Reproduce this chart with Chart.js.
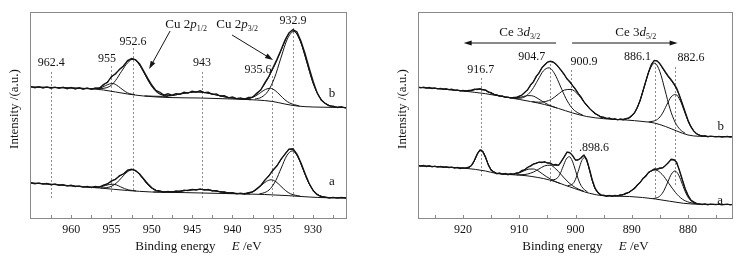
<!DOCTYPE html>
<html>
<head>
<meta charset="utf-8" />
<script src="https://cdn.jsdelivr.net/npm/chart.js@4.4.1/dist/chart.umd.min.js"></script>
<style>
  body { margin:0; background:#fff; width:747px; height:261px; overflow:hidden; position:relative; }
  .panel { position:absolute; top:0; height:261px; }
  #cuBox { left:0; width:372px; }
  #ceBox { left:374px; width:373px; }
</style>
</head>
<body>
<div class="panel" id="cuBox"><canvas id="cuChart" width="372" height="261"></canvas></div>
<div class="panel" id="ceBox"><canvas id="ceChart" width="373" height="261"></canvas></div>
<script>
// ---- Cu 2p, sample b (upper trace) : [binding energy eV, intensity a.u.]
const cuRawB = [[965,132.5],[964.5,131.2],[964,132.4],[963.5,131.0],[963,132.1],[962.5,130.8],[962,131.9],[961.5,130.6],[961,131.8],[960.5,130.2],[960,131.5],[959.5,130.0],[959,131.2],[958.5,129.8],[958,131.0],[957.5,129.6],[957,131.2],[956.5,130.8],[956,134.5],[955.5,136.6],[955,142.5],[954.5,145.0],[954,149.8],[953.5,153.0],[953,158.4],[952.5,160.5],[952,159.2],[951.5,155.2],[951,148.0],[950.5,140.6],[950,134.0],[949.5,128.6],[949,126.8],[948.5,124.0],[948,125.2],[947.5,123.9],[947,125.4],[946.5,124.8],[946,126.7],[945.5,125.9],[945,127.8],[944.5,126.9],[944,128.2],[943.5,126.4],[943,126.9],[942.5,124.6],[942,125.2],[941.5,123.0],[941,123.4],[940.5,121.2],[940,122.0],[939.5,120.4],[939,121.2],[938.5,120.0],[938,121.6],[937.5,121.9],[937,125.8],[936.5,129.0],[936,136.1],[935.5,142.4],[935,151.0],[934.5,159.5],[934,168.8],[933.5,178.6],[933,186.2],[932.5,189.4],[932,187.0],[931.5,177.8],[931,165.5],[930.5,151.2],[930,137.8],[929.5,126.0],[929,119.0],[928.5,115.6],[928,113.2],[927.5,112.9],[927,111.5],[926.5,112.3],[926,111.0],[925.8,111.8]];
const cuFitB = [[965,132],[963,131.6],[961,131.1],[959,130.7],[957.5,130.2],[956.6,130.9],[955.7,135.8],[955.2,139.9],[954.8,143.5],[954.4,146.5],[953.9,149.8],[953.4,154.5],[953,157.7],[952.6,159.7],[952.3,159.9],[951.9,158.1],[951.5,154],[951,146.8],[950.5,139.2],[950,132.8],[949.4,127.4],[948.7,124.3],[947.6,123.5],[946.5,125],[945.4,126.4],[944.3,127.1],[943.2,126.1],[942.1,124.2],[941,122.2],[939.9,120.8],[938.8,120.1],[937.6,121.7],[937,125],[936.4,130.3],[935.8,137.6],[935.2,146.7],[934.6,156.5],[934.1,166],[933.6,175.9],[933.1,184],[932.6,188.2],[932.1,186.1],[931.6,178.1],[931.1,165.8],[930.6,151.6],[930.1,138.4],[929.6,128],[928.9,118.7],[928.1,113.8],[927,111.9],[925.8,111.5]];
const cuBgB = [[965,132],[958,130.5],[956,129],[953,125],[951,123],[948,121.5],[944,121],[940,120],[937,119],[935,117.5],[933.5,115],[932,113],[930,112],[925.8,111.5]];
const cuB955 = [[957.5,130.2],[956.6,130.5],[955.7,133.5],[955.25,135],[954.8,135.4],[954.35,133.8],[953.9,131.1],[953,126.1],[952.1,124.2]];
const cuB952 = [[956.65,129.9],[955.2,132.7],[954.5,138.4],[953.75,147.7],[953,156.2],[952.3,159.8],[951.6,154.8],[950.85,144.6],[950.1,133.8],[949.4,126.9],[947.95,121.9]];
const cuB943 = [[950.9,123.1],[948.7,122.6],[947.6,123.3],[946.5,125],[945.4,126.4],[944.3,127],[943.2,126.1],[942.1,124.2],[941,122.2],[939.9,120.8],[937.7,119.3]];
const cuB935 = [[938.9,119.7],[937.7,121],[937.1,123.2],[936.5,126.5],[935.9,129.6],[935.3,130.7],[934.7,128.4],[934.1,123.9],[933.5,119.2],[932.9,116],[931.7,113]];
const cuB932 = [[937.2,119.9],[936.4,121.8],[935.6,127.8],[934.8,140.8],[934,160.9],[933.2,179.9],[932.4,187.5],[931.6,178.1],[930.8,157.5],[930,135.7],[929.2,121.9],[928.4,115.1],[927.6,112.5]];

// ---- Cu 2p, sample a (lower trace)
const cuRawA = [[965,36.4],[964.5,35.2],[964,36.1],[963.5,34.8],[963,35.6],[962.5,34.2],[962,35.0],[961.5,33.6],[961,34.3],[960.5,33.0],[960,33.9],[959.5,32.3],[959,33.1],[958.5,31.8],[958,32.6],[957.5,31.4],[957,32.5],[956.5,31.9],[956,33.9],[955.5,35.0],[955,38.1],[954.5,39.6],[954,43.4],[953.5,45.0],[953,48.8],[952.5,49.9],[952,48.4],[951.5,45.0],[951,40.2],[950.5,35.3],[950,31.2],[949.5,28.6],[949,28.2],[948.5,26.9],[948,27.6],[947.5,26.9],[947,28.1],[946.5,27.4],[946,28.8],[945.5,28.3],[945,29.7],[944.5,29.0],[944,30.1],[943.5,28.9],[943,29.5],[942.5,28.0],[942,28.4],[941.5,26.8],[941,27.2],[940.5,25.8],[940,26.3],[939.5,25.1],[939,25.9],[938.5,25.0],[938,26.4],[937.5,27.0],[937,30.3],[936.5,33.4],[936,38.9],[935.5,43.0],[935,48.8],[934.5,53.0],[934,59.6],[933.5,64.6],[933,69.8],[932.5,70.2],[932,64.8],[931.5,56.0],[931,45.4],[930.5,35.8],[930,28.5],[929.5,24.2],[929,22.3],[928.5,21.9],[928,21.0],[927.5,21.6],[927,20.9],[926.5,21.5],[926,20.8],[925.8,21.3]];
const cuFitA = [[965,36],[963,35],[961,33.8],[959,32.5],[957.65,31.8],[956.7,31.9],[956.2,32.7],[955.75,34.3],[955.3,36.2],[954.8,38.6],[954.3,41.1],[953.8,43.8],[953.3,46.7],[952.85,48.8],[952.4,49.4],[951.9,47.4],[951.4,43.3],[950.9,38.3],[950.4,33.7],[949.8,29.8],[949.1,27.8],[948.3,27.1],[947.3,27.4],[946.3,28],[945.3,28.9],[944.3,29.5],[943.3,29.3],[942.3,28.3],[941.3,27],[940.3,26.1],[939.3,25.4],[938.3,25.5],[937.6,26.9],[937,29.7],[936.4,34.6],[935.8,40.3],[935.2,46.2],[934.6,52.2],[934,59],[933.4,66.1],[932.9,69.6],[932.5,69.2],[932,64],[931.5,55.1],[931,44.5],[930.5,35.4],[930,28.8],[929.5,24.8],[929,22.8],[928.3,21.6],[927,21.25],[925.8,21.2]];
const cuBgA = [[965,36],[962,34.5],[959,32.5],[956.5,31],[953,28.5],[950,27],[946,26.4],[940,25.3],[936,24.5],[933,23.3],[930.5,22],[928.5,21.3],[925.8,21.2]];
const cuA955 = [[957.65,31.75],[956.7,31.8],[956.22,32.4],[955.75,33.5],[955.28,34.5],[954.8,34.8],[954.33,33.9],[953.85,32.1],[953.38,30.4],[952.9,29.15],[951.95,28.05]];
const cuA952 = [[956.3,31.1],[955.65,31.3],[955,32.7],[954.35,36.2],[953.7,41.7],[953.05,47],[952.4,49.2],[951.75,46.4],[951.1,40.3],[950.45,33.9],[949.8,29.8],[949.15,27.8],[948.5,27]];
const cuA943 = [[949.8,27],[947.8,27.2],[946.8,27.6],[945.8,28.5],[944.8,29.3],[943.8,29.5],[942.8,28.9],[941.8,27.7],[940.8,26.5],[939.8,25.8],[937.8,24.9]];
const cuA935 = [[938.8,25.3],[937.6,26.9],[937,29.5],[936.4,33.7],[935.8,37.6],[935.2,39.2],[934.6,37.2],[934,32.8],[933.4,28.3],[932.8,25.2],[931.6,22.8]];
const cuA932 = [[936.65,25.2],[935.98,26.5],[935.3,30.3],[934.63,38.5],[933.95,51],[933.28,63.1],[932.6,68.1],[931.93,62.6],[931.25,49.7],[930.58,36.5],[929.9,27.9],[929.23,23.5],[928.55,21.8]];

// ---- Ce 3d, sample b
const ceRawB = [[928,131.9],[927.5,131.2],[927,131.9],[926.5,130.9],[926,131.5],[925.5,130.5],[925,131.1],[924.5,130.1],[924,130.7],[923.5,129.8],[923,130.3],[922.5,129.3],[922,129.8],[921.5,128.7],[921,129.2],[920.5,128.1],[920,128.6],[919.5,127.9],[919,128.7],[918.5,128.5],[918,129.8],[917.5,129.5],[917,130.4],[916.5,129.2],[916,129.1],[915.5,126.9],[915,126.3],[914.5,124.4],[914,124.0],[913.5,122.8],[913,123.0],[912.5,121.6],[912,121.9],[911.5,120.9],[911,121.7],[910.5,121.5],[910,122.9],[909.5,124.0],[909,126.8],[908.5,129.2],[908,134.1],[907.5,137.0],[907,142.6],[906.5,145.9],[906,151.1],[905.5,154.0],[905,156.8],[904.5,157.9],[904,157.2],[903.5,155.1],[903,151.9],[902.5,148.3],[902,144.6],[901.5,140.0],[901,137.2],[900.5,133.4],[900,129.8],[899.5,125.3],[899,121.9],[898.5,117.2],[898,113.9],[897.5,110.6],[897,107.9],[896.5,105.4],[896,104.0],[895.5,102.0],[895,101.9],[894.5,100.4],[894,101.0],[893.5,99.6],[893,100.2],[892.5,99.1],[892,100.0],[891.5,99.3],[891,100.4],[890.5,101.2],[890,103.4],[889.5,106.3],[889,111.8],[888.5,118.6],[888,128.4],[887.5,137.9],[887,147.1],[886.5,154.6],[886,158.6],[885.5,158.2],[885,155.3],[884.5,151.1],[884,146.8],[883.5,142.9],[883,139.4],[882.5,135.4],[882,130.8],[881.5,123.3],[881,115.4],[880.5,107.0],[880,98.8],[879.5,92.6],[879,88.1],[878.5,85.2],[878,84.0],[877.5,82.9],[877,83.3],[876.5,82.2],[876,82.9],[875,82.1],[874.5,82.7],[874,81.9],[873,82.6],[872.5,81.9],[872,82.5]];
const ceFitB = [[928,131.7],[925,130.6],[922,129.1],[920,128.2],[918.8,128.4],[918,129.3],[917.4,129.9],[916.8,129.8],[916.2,129],[915.6,127.5],[914.8,125.4],[913.5,123.1],[912,121.6],[911,121.4],[910,122.6],[909.2,125.6],[908.4,130.4],[907.6,136.5],[906.8,143.6],[906,150.6],[905.4,154.8],[904.7,157.3],[904,156.7],[903.3,153.4],[902.6,148.6],[901.9,143.3],[901.2,138.1],[900.5,133],[899.8,127.8],[899,121.4],[898.2,114.8],[897.3,109.2],[896.3,104.7],[895.2,101.7],[894,100.3],[892.5,99.5],[891,100.1],[890,103],[889.2,109.3],[888.5,119],[887.8,131.6],[887.2,143.4],[886.6,152.9],[885.9,158.3],[885.3,157.1],[884.7,152.3],[884.1,146.9],[883.5,142],[882.9,137.7],[882.3,132.6],[881.7,125.6],[881.1,116.3],[880.5,106.2],[879.8,95.8],[879.1,88.9],[878.3,84.7],[877.3,82.95],[875,82.5],[872,82.3]];
const ceBgB = [[928,131.7],[924,130.2],[920,128],[916,125.3],[912,121.5],[908,117.5],[905.5,114.5],[903,110.5],[900.5,106],[898,102.5],[895,100.3],[891,99],[888,97.5],[886,96],[884,92.5],[882,88],[880,84],[878,82.7],[872,82.3]];
const ceB916 = [[920.7,128.4],[919.4,128.1],[918.75,128.5],[918.1,129.1],[917.45,129.8],[916.8,129.8],[916.15,128.9],[915.5,127.2],[914.85,125.5],[914.2,124.1],[912.9,122.4]];
const ceB907 = [[912.3,121.8],[910.8,121.1],[910.05,121.5],[909.3,122.4],[908.55,123.4],[907.8,123.3],[907.05,121.7],[906.3,119.1],[905.55,116.5],[904.8,114.2],[903.3,111]];
const ceB904 = [[910.7,120.6],[909.7,120.9],[908.7,123.3],[907.7,129.4],[906.7,138.9],[905.7,148.2],[904.7,151.2],[903.7,145.1],[902.7,133],[901.7,120.5],[900.7,111.5],[899.7,106.6],[898.7,103.9]];
const ceB900 = [[907.7,117.4],[906.55,116.8],[905.4,117.4],[904.25,119.8],[903.1,124.7],[901.95,129],[900.8,129.6],[899.65,125.1],[898.5,117.2],[897.35,109.4],[896.2,104.3],[895.05,101.3],[893.9,100.2]];
const ceB886 = [[891.3,99.8],[890.4,101.3],[889.5,106.3],[888.6,117.3],[887.7,133.7],[886.8,149.6],[885.9,155.8],[885,147.3],[884.1,129.1],[883.2,110.2],[882.3,96.8],[881.4,89.4],[880.5,85.7]];
const ceB882 = [[887,97.2],[886.2,97.8],[885.4,99.8],[884.6,105.1],[883.8,113.9],[883,122.1],[882.2,124.5],[881.4,118.6],[880.6,107],[879.8,95.5],[879,88.3],[878.2,84.4],[877.4,83]];

// ---- Ce 3d, sample a
const ceRawA = [[928,53.6],[927.5,52.8],[927,53.5],[926.5,52.5],[926,53.2],[925.5,52.1],[925,52.9],[924.5,51.9],[924,52.6],[923.5,51.6],[923,52.2],[922.5,51.3],[922,51.9],[921.5,50.9],[921,51.6],[920.5,50.5],[920,51.2],[919.5,50.8],[919,51.8],[918.5,53.4],[918,58.5],[917.5,64.8],[917,68.9],[916.5,67.4],[916,61.9],[915.5,53.9],[915,48.6],[914.5,47.0],[914,45.3],[913.5,46.0],[913,44.8],[912.5,45.5],[912,44.3],[911.5,45.4],[911,44.7],[910.5,46.2],[910,46.4],[909.5,48.6],[909,49.2],[908.5,51.8],[908,52.9],[907.5,54.8],[907,55.6],[906.5,56.9],[906,56.5],[905.5,57.4],[905,55.9],[904.5,56.0],[904,54.2],[903.5,54.5],[903,53.7],[902.5,57.9],[902,62.1],[901.5,66.9],[901,66.2],[900.5,63.4],[900,58.9],[899.5,59.3],[899,61.0],[898.5,63.9],[898,59.4],[897.5,49.6],[897,38.7],[896.5,30.6],[896,26.4],[895.5,24.0],[895,23.9],[894.5,22.8],[894,23.5],[893.5,22.6],[893,23.6],[892.5,23.1],[892,24.2],[891.5,24.4],[891,25.9],[890.5,26.5],[890,28.8],[889.5,30.6],[889,34.0],[888.5,36.6],[888,40.5],[887.5,42.8],[887,46.8],[886.5,48.3],[886,50.1],[885.5,49.6],[885,51.0],[884.5,51.1],[884,53.6],[883.5,56.2],[883,59.7],[882.5,59.3],[882,56.6],[881.5,48.4],[881,39.3],[880.5,30.2],[880,23.9],[879.5,19.0],[879,17.3],[878.5,15.4],[878,15.2],[877.5,14.4],[877,15.1],[876.5,14.2],[876,14.9],[875,14.3],[874.5,14.9],[874,14.1],[873,14.8],[872.5,14.2],[872,14.7]];
const ceFitA = [[928,53.2],[925,52.45],[922,51.5],[920,50.9],[919,51.3],[918.4,54.1],[917.9,59.2],[917.4,65.4],[916.8,69],[916.3,65.7],[915.8,58.7],[915.3,52.2],[914.8,48.2],[914,45.7],[913,45.1],[912,44.8],[911,45],[910,46.5],[909.2,49],[908.4,51.9],[907.6,54.6],[906.8,56.3],[906,56.9],[905.3,56.6],[904.6,55.8],[903.9,53.8],[903.2,53.7],[902.6,56.6],[902,62.5],[901.5,66.4],[901.1,66.7],[900.6,63.6],[900.1,59.6],[899.6,58.6],[899.1,61.3],[898.6,63.4],[898.1,60],[897.6,50.8],[897.1,39.9],[896.6,31.5],[896,26.1],[895.1,23.4],[894,23.1],[893,23.2],[891.8,24],[890.6,26.4],[889.4,31.4],[888.2,38.9],[887,46.3],[886.2,49.1],[885.5,50],[884.8,50.6],[884.2,52.5],[883.6,56],[883,59.1],[882.4,58.7],[881.8,52.6],[881.2,42.4],[880.6,31.6],[880,23.5],[879.4,18.6],[878.7,16.1],[877.8,14.8],[875,14.6],[872,14.5]];
const ceBgA = [[928,53.2],[924,52.2],[919.5,50.7],[916,48],[914.2,45.7],[911,44.2],[908.8,43.3],[904.6,39],[901.1,32.3],[897.5,25.7],[895.1,23.3],[890.4,22.5],[885.8,20],[880.8,15.7],[877.8,14.7],[872,14.5]];
const ceA916 = [[919.5,50.9],[918.6,52.8],[918.15,56.2],[917.7,61.7],[917.25,67],[916.8,69],[916.35,66.3],[915.9,60.3],[915.45,53.8],[915,49.5],[914.1,45.9]];
const ceA907 = [[912.3,44.9],[911.5,44.75],[910.7,45.2],[909.9,46.4],[909.1,48.3],[908.3,49.9],[907.5,50],[906.7,48.3],[905.9,45.2],[905.1,42.1],[904.3,39.5],[903.5,37.25],[902.7,35.45]];
const ceA904 = [[910.5,44.2],[909.5,44.3],[908.5,45],[907.5,46.9],[906.5,50],[905.5,53.1],[904.5,53.8],[903.5,50.1],[902.5,44.1],[901.5,38],[900.5,33.2],[899.5,30],[898.5,27.7]];
const ceA900 = [[904.4,38.9],[903.3,40.6],[902.75,45],[902.2,52.6],[901.65,59.9],[901.1,62.3],[900.55,57.8],[900,48.5],[899.45,38.9],[898.9,32.4],[897.8,26.6]];
const ceA898 = [[901.4,33.2],[900.4,35.6],[899.9,41.1],[899.4,49.8],[898.9,58.3],[898.4,61.35],[897.9,56.45],[897.4,46.2],[896.9,36.1],[896.4,29.2],[895.4,24]];
const ceA886 = [[893,23.2],[891.8,24],[890.6,26.4],[889.4,31.4],[888.2,38.9],[887,46.3],[885.8,49],[884.6,44.6],[883.4,35.5],[882.2,26.3],[881,19.8],[879.8,16.7],[878.6,15.3]];
const ceA882 = [[886.2,20.5],[885.55,21.2],[884.9,23.4],[884.25,28.7],[883.6,36.9],[882.95,44.9],[882.3,48],[881.65,43.8],[881,34.7],[880.35,25.55],[879.7,19.5],[879.05,16.5],[878.4,15.2]];

// ---- axes
const cuMajor = [960, 955, 950, 945, 940, 935, 930];
const cuMinor = [962.5, 957.5, 952.5, 947.5, 942.5, 937.5, 932.5, 927.5];
const ceMajor = [920, 910, 900, 890, 880];
const ceMinor = [925, 915, 905, 895, 885, 875];

// ---- annotations (energy, intensity)
const cuNotes = {
  vlines: [[962.45,147,21],[955.0,153,26],[952.3,171,27],[943.8,147,21],[935.05,143,22],[932.55,191,22]],
  labels: [['962.4',962.48,156],['955',955.54,160],['952.6',952.32,177],['943',943.77,156],['935.6',936.83,149],['932.9',932.49,198]],
  samples: [['b',927.66,125],['a',927.66,37]],
  groups: [[['Cu 2',''],['p','i'],['1/2','s']], [['Cu 2',''],['p','i'],['3/2','s']]],
  groupPos: [[945.75,194],[939.43,194]],
  arrows: [[947.73,188,950.33,150],[940.05,184,934.97,159]]
};
const ceNotes = {
  vlines: [[916.8,141,41],[904.6,155,36],[900.8,149,64],[885.9,156,21],[882.4,152,34]],
  labels: [['916.7',916.84,149],['904.7',907.79,161.7],['900.9',898.5,157.3],['886.1',888.98,161.7],['882.6',879.46,160.7],['.898.6',896.72,70.7]],
  samples: [['b',874.16,92],['a',874.3,18]],
  groups: [[['Ce 3',''],['d','i'],['3/2','s']], [['Ce 3',''],['d','i'],['5/2','s']]],
  groupPos: [[909.9,186],[889.3,186]],
  arrows: [[903.45,176,919.88,176],[900.6,176,881.85,176]]
};

const SERIF = '"Liberation Serif", "Times New Roman", serif';
const INK = '#141414';

function drawRuns(ctx, parts, cx, cy, size) {
  const fontOf = k => (k === 'i' ? 'italic ' : '') + (k === 's' ? Math.round(size * 0.62) : size) + 'px ' + SERIF;
  let w = 0;
  parts.forEach(([t, k]) => { ctx.font = fontOf(k); w += ctx.measureText(t).width; });
  let px = cx - w / 2;
  ctx.textAlign = 'left';
  ctx.textBaseline = 'middle';
  parts.forEach(([t, k]) => {
    ctx.font = fontOf(k);
    ctx.fillText(t, px, cy + (k === 's' ? size * 0.32 : 0));
    px += ctx.measureText(t).width;
  });
}

function drawArrow(ctx, x0, y0, x1, y1) {
  const ang = Math.atan2(y1 - y0, x1 - x0);
  const L = 8, W = 2.6;
  ctx.beginPath(); ctx.moveTo(x0, y0); ctx.lineTo(x1 - Math.cos(ang) * L * 0.8, y1 - Math.sin(ang) * L * 0.8); ctx.stroke();
  ctx.beginPath();
  ctx.moveTo(x1, y1);
  ctx.lineTo(x1 - Math.cos(ang) * L - Math.sin(ang) * W, y1 - Math.sin(ang) * L + Math.cos(ang) * W);
  ctx.lineTo(x1 - Math.cos(ang) * L + Math.sin(ang) * W, y1 - Math.sin(ang) * L - Math.cos(ang) * W);
  ctx.closePath(); ctx.fill();
}

function decoPlugin(notes, tickVals) {
  return {
    id: 'deco',
    beforeDatasetsDraw(chart) {
      const { ctx, scales: { x, y } } = chart;
      ctx.save();
      ctx.strokeStyle = '#8c8c8c'; ctx.lineWidth = 1; ctx.setLineDash([2, 2]);
      notes.vlines.forEach(([e, y0, y1]) => {
        const px = Math.round(x.getPixelForValue(e)) + 0.5;
        ctx.beginPath(); ctx.moveTo(px, y.getPixelForValue(y0)); ctx.lineTo(px, y.getPixelForValue(y1)); ctx.stroke();
      });
      ctx.restore();
    },
    afterDatasetsDraw(chart) {
      const { ctx, chartArea: a, scales: { x, y } } = chart;
      ctx.save();
      // frame + inward ticks
      ctx.strokeStyle = '#8a8a8a'; ctx.lineWidth = 1;
      ctx.strokeRect(a.left + 0.5, a.top + 0.5, a.right - a.left - 1, a.bottom - a.top - 1);
      tickVals.forEach(v => {
        const px = Math.round(x.getPixelForValue(v)) + 0.5;
        ctx.beginPath(); ctx.moveTo(px, a.bottom); ctx.lineTo(px, a.bottom - 4); ctx.stroke();
      });
      ctx.fillStyle = INK;
      notes.labels.forEach(([t, e, v]) => drawRuns(ctx, [[t, '']], x.getPixelForValue(e), y.getPixelForValue(v), 12));
      notes.samples.forEach(([t, e, v]) => drawRuns(ctx, [[t, '']], x.getPixelForValue(e), y.getPixelForValue(v), 13));
      notes.groups.forEach((parts, i) => {
        const [e, v] = notes.groupPos[i];
        drawRuns(ctx, parts, x.getPixelForValue(e), y.getPixelForValue(v), 13);
      });
      ctx.strokeStyle = INK; ctx.lineWidth = 1;
      notes.arrows.forEach(([e0, v0, e1, v1]) =>
        drawArrow(ctx, x.getPixelForValue(e0), y.getPixelForValue(v0), x.getPixelForValue(e1), y.getPixelForValue(v1)));
      // axis titles
      drawRuns(ctx, [['Binding energy', ''], ['     ', ''], ['E', 'i'], [' /eV', '']], (a.left + a.right) / 2 + 10, 247, 13);
      ctx.translate(a.left - 15, 109);
      ctx.rotate(-Math.PI / 2);
      drawRuns(ctx, [['Intensity /(a.u.)', '']], 0, 0, 13);
      ctx.restore();
    }
  };
}

function line(points, width, smooth) {
  return {
    data: points.map(([x, y]) => ({ x, y })),
    borderColor: INK,
    borderWidth: width,
    pointRadius: 0,
    fill: false,
    tension: 0,
    cubicInterpolationMode: smooth ? 'monotone' : 'default'
  };
}

function makeChart(id, sets, range, major, minor, notes, pad) {
  const all = major.concat(minor).sort((p, q) => p - q);
  return new Chart(document.getElementById(id), {
    type: 'line',
    data: { datasets: sets },
    options: {
      responsive: false, animation: false, events: [],
      layout: { padding: pad },
      plugins: { legend: { display: false }, tooltip: { enabled: false } },
      scales: {
        x: {
          type: 'linear', reverse: true, min: range[0], max: range[1],
          grid: { display: false, drawTicks: false }, border: { display: false },
          afterBuildTicks: s => { s.ticks = all.map(v => ({ value: v })); },
          afterFit: s => { s.height = 42; },
          ticks: {
            autoSkip: false, maxRotation: 0, padding: 4, color: INK,
            font: { family: SERIF, size: 12 },
            callback: v => major.includes(v) ? String(v) : ''
          }
        },
        y: { display: false, min: 0, max: 207 }
      }
    },
    plugins: [decoPlugin(notes, all)]
  });
}

makeChart('cuChart', [
  line(cuRawB, 1.3, false), line(cuFitB, 1, true), line(cuBgB, 1, true),
  line(cuB955, 1, true), line(cuB952, 1, true), line(cuB943, 1, true), line(cuB935, 1, true), line(cuB932, 1, true),
  line(cuRawA, 1.3, false), line(cuFitA, 1, true), line(cuBgA, 1, true),
  line(cuA955, 1, true), line(cuA952, 1, true), line(cuA943, 1, true), line(cuA935, 1, true), line(cuA932, 1, true)
], [925.8, 965.1], cuMajor, cuMinor, cuNotes, { left: 30, right: 25, top: 12, bottom: 0 });

makeChart('ceChart', [
  line(ceRawB, 1.3, false), line(ceFitB, 1, true), line(ceBgB, 1, true),
  line(ceB916, 1, true), line(ceB907, 1, true), line(ceB904, 1, true), line(ceB900, 1, true), line(ceB886, 1, true), line(ceB882, 1, true),
  line(ceRawA, 1.3, false), line(ceFitA, 1, true), line(ceBgA, 1, true),
  line(ceA916, 1, true), line(ceA907, 1, true), line(ceA904, 1, true), line(ceA900, 1, true), line(ceA898, 1, true), line(ceA886, 1, true), line(ceA882, 1, true)
], [872, 928], ceMajor, ceMinor, ceNotes, { left: 44, right: 14, top: 12, bottom: 0 });
</script>
</body>
</html>
